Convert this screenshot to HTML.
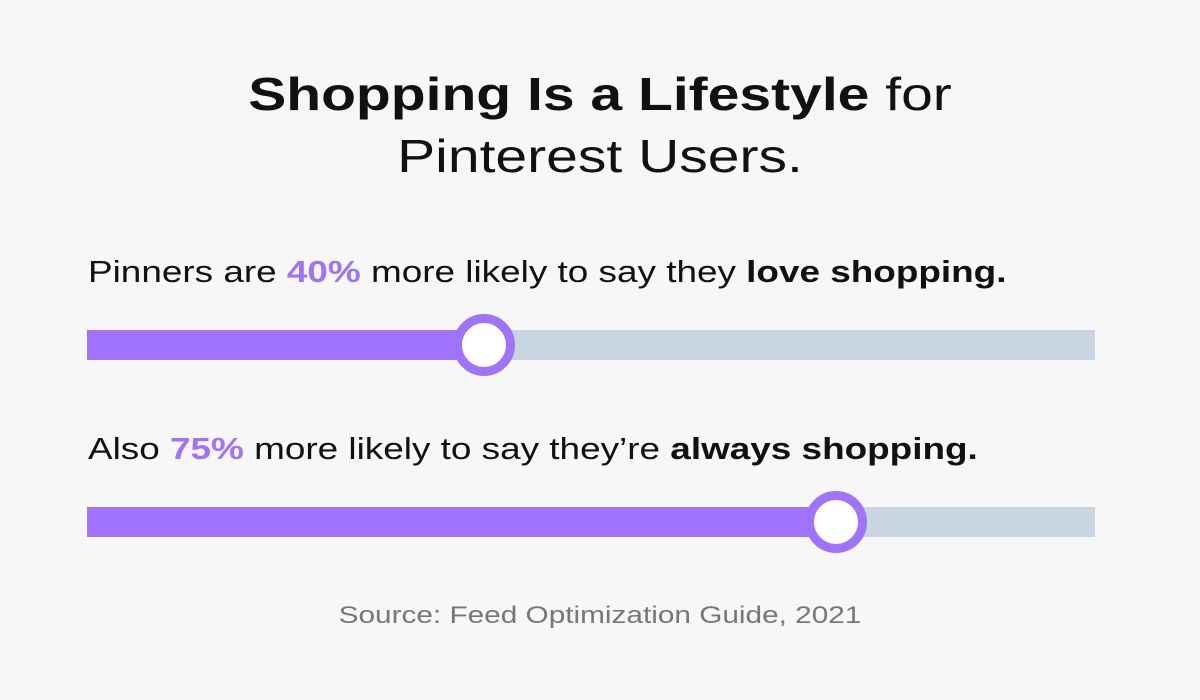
<!DOCTYPE html>
<html><head><style>
body{margin:0;width:1200px;height:700px;background:#f7f7f7;font-family:"Liberation Sans",sans-serif;position:relative;overflow:hidden;color:#111}
.t{position:absolute;left:0;width:1200px;text-align:center;font-size:46px;line-height:56px;transform:scaleX(1.24);transform-origin:600px 0}
.l{position:absolute;left:88px;font-size:31px;white-space:nowrap;transform:scaleX(1.19);transform-origin:0 0}
.p{color:#a073ff;font-weight:bold}
.bar{position:absolute;left:87px;width:1008px;height:30px;background:#c9d5e0}
.fill{position:absolute;left:0;top:0;height:30px;background:#a073ff}
.k{position:absolute;width:44px;height:44px;border-radius:50%;background:#fff;border:9px solid #a073ff}
</style></head><body>
<div class="t" style="top:66px"><b>Shopping Is a Lifestyle</b> for</div>
<div class="t" style="top:128px">Pinterest Users.</div>
<div class="l" style="top:254px">Pinners are <span class="p">40%</span> more likely to say they <b>love shopping.</b></div>
<div class="bar" style="top:330px"><div class="fill" style="width:397px"></div></div>
<div class="k" style="left:453px;top:314px"></div>
<div class="l" style="top:431px">Also <span class="p">75%</span> more likely to say they’re <b>always shopping.</b></div>
<div class="bar" style="top:507px"><div class="fill" style="width:749px"></div></div>
<div class="k" style="left:805px;top:491px"></div>
<div style="position:absolute;top:602px;left:0;width:1200px;text-align:center;font-size:24px;color:#777;transform:scaleX(1.24);transform-origin:600px 0">Source: Feed Optimization Guide, 2021</div>
</body></html>
